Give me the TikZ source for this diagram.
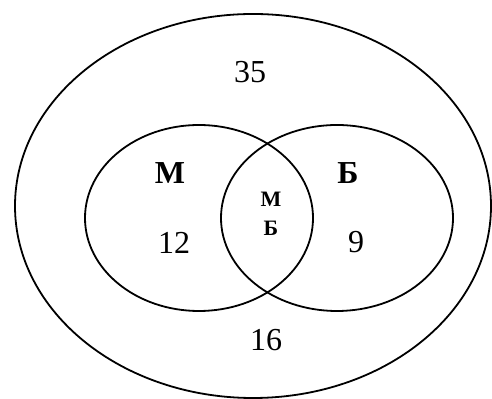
\documentclass[tikz,border=0pt]{standalone}
\usepackage{fontspec}
\setmainfont{Liberation Serif}
\usetikzlibrary{positioning}
\tikzset{
  every picture/.style={line width=0.9pt},
  set/.style={draw=black},
  num/.style={font=\fontsize{16}{18}\selectfont, inner sep=0pt},
  small/.style={font=\fontsize{11}{12}\selectfont\bfseries, inner sep=0pt},
}

\begin{document}
\begin{tikzpicture}[x=0.5pt, y=-0.5pt]
  \useasboundingbox (0,0) rectangle (492,399);
  % sets
  \draw[set] (253,206) ellipse [x radius=238, y radius=192];  % everyone
  \draw[set] (199,218) ellipse [x radius=114, y radius=93];   % M
  \draw[set] (337,218) ellipse [x radius=116, y radius=93];   % B
  % labels
  \node[num] (n35) at (250,72) {35};
  \node[num, font=\fontsize{16}{18}\selectfont\bfseries] (setM) at (170,173) {М};
  \node[num, font=\fontsize{16}{18}\selectfont\bfseries] (setB) at (348,173) {Б};
  \node[num] (n12) at (174,243) {12};
  \node[num] (n9) at (356,242) {9};
  \node[small] (bothM) at (271,199) {М};
  \node[small, below=6.5pt of bothM] (bothB) {Б};
  \node[num] (n16) at (266,340) {16};
\end{tikzpicture}
\end{document}
